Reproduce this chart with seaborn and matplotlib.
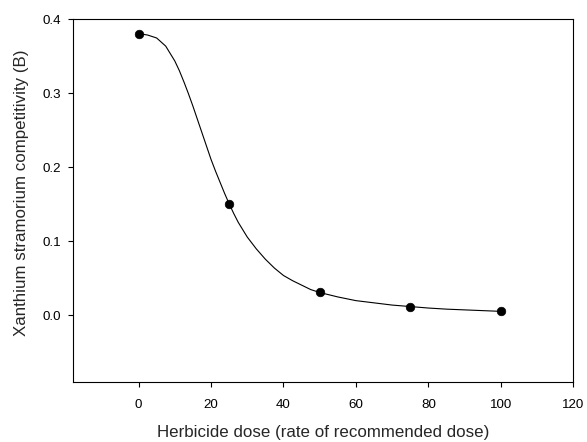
import matplotlib
matplotlib.use("Agg")
import matplotlib.pyplot as plt
import seaborn as sns
import pandas as pd

# Observed data points
dose = [0, 25, 50, 75, 100]
competitivity = [0.381, 0.151, 0.031, 0.012, 0.0065]

# Fitted curve, values
curve_dose = [0, 2.5, 5, 7.5, 10, 11.25, 12.5, 13.75, 15, 16.25, 17.5, 18.75,
              20, 21.25, 22.5, 23.75, 25, 26.25, 27.5, 28.75, 30, 32.5, 35,
              37.5, 40, 42.5, 45, 47.5, 50, 55, 60, 65, 70, 75, 80, 85, 90,
              95, 100]
curve_value = [0.381, 0.379, 0.375, 0.364, 0.344, 0.331, 0.316, 0.300, 0.283,
               0.265, 0.247, 0.229, 0.211, 0.195, 0.180, 0.165, 0.151, 0.138,
               0.126, 0.116, 0.106, 0.090, 0.076, 0.064, 0.054, 0.047, 0.041,
               0.035, 0.031, 0.025, 0.020, 0.017, 0.014, 0.012, 0.010, 0.0085,
               0.0075, 0.0065, 0.0055]

x_ticks = [0, 20, 40, 60, 80, 100, 120]
y_ticks = [0.0, 0.1, 0.2, 0.3, 0.4]

sns.set_style("ticks")
plt.rcParams['font.family'] = ['Liberation Sans', 'DejaVu Sans']

fig = plt.figure(figsize=(5.87, 4.42), dpi=100)
ax = fig.add_axes([0.1249, 0.1357, 0.8518, 0.8202])

df_pts = pd.DataFrame({"dose": dose, "val": competitivity})
df_curve = pd.DataFrame({"dose": curve_dose, "val": curve_value})

sns.lineplot(data=df_curve, x="dose", y="val", ax=ax, color="black", linewidth=0.8)
sns.scatterplot(data=df_pts, x="dose", y="val", ax=ax, color="black", s=38,
                edgecolor="black", linewidth=0.5, zorder=3)

ax.set_xlim(-18, 120)
ax.set_ylim(-0.09, 0.4)
ax.set_xticks(x_ticks)
ax.set_yticks(y_ticks)
ax.set_xticklabels([str(t) for t in x_ticks], fontsize=9.6)
ax.set_yticklabels([f"{t:.1f}" for t in y_ticks], fontsize=9.6)
ax.tick_params(direction="out", length=3.6, width=0.8, labelsize=9.6, colors="black")
ax.tick_params(axis="x", pad=8.3)
ax.tick_params(axis="y", pad=5.5)
for s in ax.spines.values():
    s.set_linewidth(0.8)
    s.set_color("black")
    s.set_visible(True)

ax.set_xlabel("Herbicide dose (rate of recommended dose)", fontsize=12.2)
ax.set_ylabel("Xanthium stramorium competitivity (B)", fontsize=12.2)
ax.xaxis.label.set_va("center")
ax.yaxis.label.set_va("center")
ax.xaxis.set_label_coords(0.5, -0.140)
ax.yaxis.set_label_coords(-0.103, 0.521)

fig.savefig("out.png", dpi=100)
